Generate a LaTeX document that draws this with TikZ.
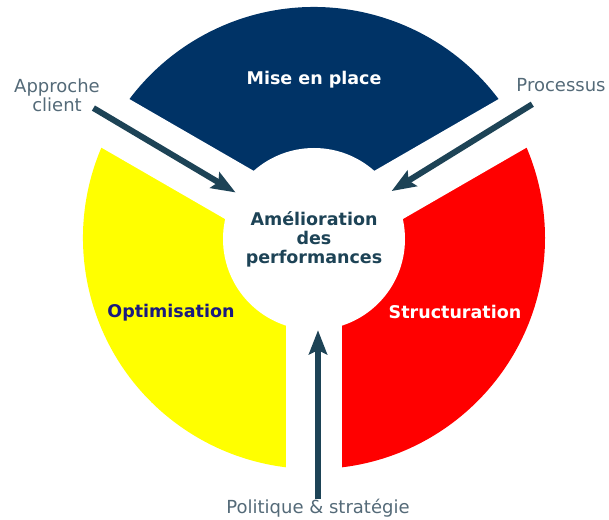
\documentclass[tikz,border=0pt]{standalone}
\usepackage{fontspec}
\setmainfont{DejaVu Sans}
\usetikzlibrary{arrows.meta,positioning}
\definecolor{bleufonce}{HTML}{003366}
\definecolor{jaune}{HTML}{FFFF00}
\definecolor{rouge}{HTML}{FF0000}
\definecolor{ardoise}{HTML}{1D4356}
\definecolor{gristexte}{HTML}{546A78}
\definecolor{marine}{HTML}{1A1A7E}
\tikzstyle{titre} = [font=\fontsize{17.5}{18}\selectfont\bfseries, inner sep=0pt]
\tikzstyle{etiquette} = [text=gristexte, font=\fontsize{18}{19}\selectfont, align=center, inner sep=0pt]
\tikzstyle{noyau} = [circle, fill=white, minimum size=182pt, inner sep=0pt, align=center, text=ardoise, font=\fontsize{17.5}{19}\selectfont\bfseries]
\tikzstyle{fente} = [fill=white]
\tikzstyle{fleche} = [draw=ardoise, line width=6pt, -{Stealth[length=24pt,width=18pt,inset=4pt]}]

\begin{document}
\begin{tikzpicture}[x=1pt, y=1pt]
    \useasboundingbox (-314,-281) rectangle (295,238);

    % les trois secteurs
    \fill[bleufonce] (0,0) -- (30:231pt) arc[start angle=30, end angle=150, radius=231pt] -- cycle;
    \fill[jaune] (0,0) -- (150:231pt) arc[start angle=150, end angle=270, radius=231pt] -- cycle;
    \fill[rouge] (0,0) -- (270:231pt) arc[start angle=270, end angle=390, radius=231pt] -- cycle;

    % fentes blanches
    \fill[fente, rotate=30] (0,-28) rectangle (245,28);
    \fill[fente, rotate=150] (0,-28) rectangle (245,28);
    \fill[fente, rotate=270] (0,-28) rectangle (245,28);

    \node[noyau] (centre) at (0,-1) {Amélioration\\des\\performances};

    \node[titre, text=white, anchor=base] (mise) at (0,153) {Mise en place};
    \node[titre, text=marine, anchor=base] (optim) at (-143,-79) {Optimisation};
    \node[titre, text=white, anchor=base] (struct) at (141,-80) {Structuration};

    \node[etiquette] (approche) at (-257,143) {Approche\\client};
    \node[etiquette, anchor=base] (processus) at (247,146) {Processus};
    \node[etiquette] (politique) at (4,-270) {Politique \& stratégie};

    \coordinate (depart1) at (149.5:256pt);
    \coordinate (depart2) at (31.5:256pt);

    \draw[fleche] (depart1) -- (centre);
    \draw[fleche] (depart2) -- (centre);
    \draw[fleche] (politique.north) -- (politique.north |- centre.south);
\end{tikzpicture}
\end{document}
